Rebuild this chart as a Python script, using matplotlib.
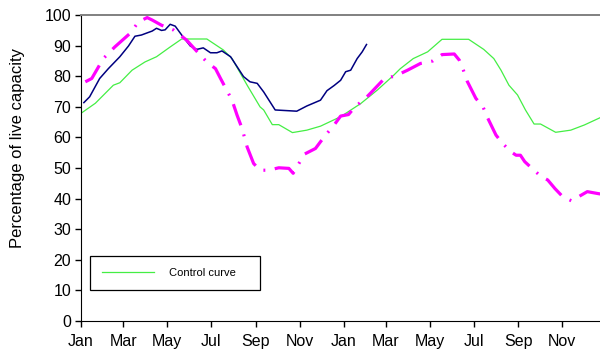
import numpy as np
import matplotlib
matplotlib.use("Agg")
from matplotlib import pyplot as plt

plt.rcParams['font.family'] = ['Liberation Sans', 'DejaVu Sans']

# day numbers counted from 1 January of the first year
month_days = [0, 59, 120, 181, 243, 304, 365, 424, 485, 546, 608, 669]
month_labels = ['Jan', 'Mar', 'May', 'Jul', 'Sep', 'Nov',
                'Jan', 'Mar', 'May', 'Jul', 'Sep', 'Nov']

control_days = [0, 20, 45, 54, 71, 89, 105, 124, 140, 175, 198, 210, 231, 249,
                254, 266, 275, 294, 314, 333, 361,
                389, 412, 435, 444, 462, 482, 502, 539, 560, 574, 584, 595, 607,
                618, 630, 639, 660, 681, 700, 723, 730]
control_pct = [67.9, 71.2, 77.1, 77.9, 82.0, 84.7, 86.4, 89.6, 92.2, 92.2, 88.6,
               85.8, 77.1, 70.0, 69.0, 64.2, 64.2, 61.6, 62.4, 63.7, 66.8,
               71.1, 75.5, 80.4, 82.5, 85.8, 88.0, 92.1, 92.1, 88.8, 85.8, 82.0,
               77.1, 73.9, 69.0, 64.4, 64.4, 61.7, 62.4, 64.1, 66.6, 67.5]

current_days = [4, 12, 26, 38, 54, 66, 75, 84, 92, 99, 105, 112, 117, 124, 131,
                140, 152, 161, 170, 180, 189, 196, 208, 226, 235, 245, 254, 270,
                300, 314, 333, 342, 352, 361, 368, 375, 384, 391, 397]
current_pct = [71.4, 73.3, 79.3, 82.5, 86.4, 89.9, 93.1, 93.5, 94.2, 94.8, 95.7,
               95.0, 95.2, 97.0, 96.4, 93.5, 89.9, 88.8, 89.3, 87.7, 87.7, 88.3,
               86.4, 79.9, 78.2, 77.7, 74.9, 69.0, 68.6, 70.3, 72.2, 75.3, 77.0,
               78.7, 81.5, 82.0, 85.8, 88.0, 90.4]

forecast_days = [6, 15, 31, 47, 68, 80, 92, 99, 112, 129, 147, 166, 175, 187,
                 194, 210, 217, 224, 231, 240, 249, 261, 275, 289, 295, 303, 311,
                 326, 333, 342, 352, 361, 372, 382, 393, 403, 422, 437, 454, 472,
                 489, 502, 519, 526, 532, 537, 549, 559, 565, 577, 586, 598, 605,
                 611, 617, 628, 639, 649, 659, 670, 682, 704, 718, 723]
forecast_pct = [78.2, 79.3, 85.8, 89.6, 94.0, 97.8, 99.2, 98.4, 96.7, 95.1, 91.8,
                86.9, 84.7, 82.5, 79.3, 72.2, 67.3, 62.9, 56.9, 51.5, 49.3, 49.3,
                50.1, 49.9, 48.3, 51.5, 54.6, 56.4, 58.6, 61.3, 64.1, 67.0, 67.5,
                70.3, 72.2, 74.6, 79.3, 80.1, 82.0, 84.2, 85.0, 87.1, 87.3, 85.3,
                81.8, 78.4, 72.8, 70.0, 66.6, 60.8, 58.1, 55.3, 54.2, 54.2, 52.1,
                49.7, 47.4, 46.1, 43.3, 40.6, 39.3, 42.3, 41.7, 41.5]

fig = plt.figure(figsize=(6.0, 3.52), dpi=100)
ax = fig.add_axes([0.135, 0.088, 0.875, 0.869])

ctrl, = ax.plot(control_days, control_pct, color='#44ee44', lw=0.9,
                label='Control curve    ')
ax.plot(current_days, current_pct, color='#000080', lw=1.1)
ax.plot(forecast_days, forecast_pct, color='#ff00ff', lw=2.3,
        dashes=(7, 3, 0.6, 3))

ax.set_xlim(0, 730)
ax.set_ylim(0, 100)
ax.set_yticks(np.arange(0, 101, 10))
ax.set_xticks(month_days)
ax.set_xticklabels(month_labels)
ax.tick_params(axis='both', labelsize=11.5, length=4, width=1, color='black')
ax.tick_params(axis='x', pad=5)
ax.tick_params(axis='y', pad=3)

# label sits above the axes centre in the original
fig.text(18 / 600, 1 - 148 / 352, 'Percentage of live capacity', fontsize=12,
         rotation=90, ha='center', va='center')

ax.spines['right'].set_visible(False)
ax.spines['top'].set_color('#808080')
ax.spines['top'].set_linewidth(1.4)
ax.spines['left'].set_color('black')
ax.spines['bottom'].set_color('black')

leg = ax.legend(handles=[ctrl], loc='upper left',
                bbox_to_anchor=(90 / 600, 1 - 256 / 352),
                bbox_transform=fig.transFigure, borderaxespad=0,
                fontsize=8, handlelength=4.7, handletextpad=1.3,
                borderpad=1.1, fancybox=False, framealpha=1)
leg.get_frame().set_edgecolor('black')
leg.get_frame().set_linewidth(0.9)

fig.savefig('out.png', dpi=100)
